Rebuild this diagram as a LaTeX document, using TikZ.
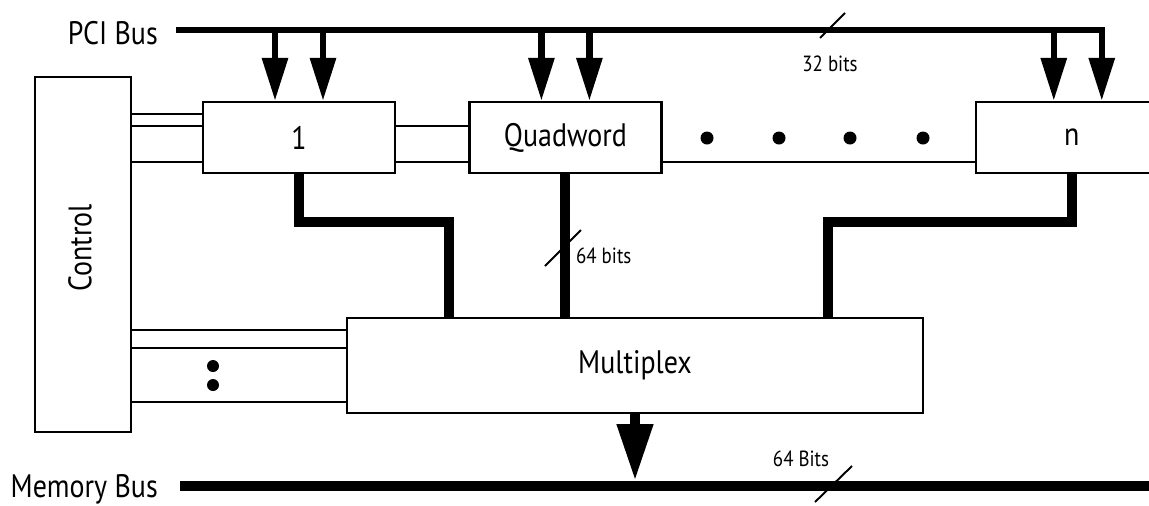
\documentclass[tikz,border=0pt]{standalone}
\usepackage{fontspec}
\setmainfont{PT Sans}[FakeStretch=0.86]
\usetikzlibrary{
  positioning,
  arrows.meta
}

\begin{document}
\begin{tikzpicture}[
    x=0.02cm, y=-0.02cm,
    font=\fontsize{18.5}{20}\selectfont,
    % Box styles
    box/.style={
        rectangle, draw=black, line width=1.4pt, fill=white, inner sep=0pt
    },
    word/.style={box, minimum width=3.84cm, minimum height=1.42cm},
    small/.style={font=\fontsize{12.5}{14}\selectfont, inner sep=1pt},
    % Line styles
    link/.style={line width=1.1pt, draw=black},
    tick/.style={line width=1.1pt, draw=black},
    wide/.style={line width=5.7pt, draw=black},
    membus/.style={line width=5.7pt, draw=black},
    pciarr/.style={-{Triangle[length=0.86cm, width=0.5cm]}, line width=3.6pt},
    memarr/.style={-{Triangle[length=1.14cm, width=0.68cm]}, line width=6pt},
    dot/.style={fill=black}
]
\path[use as bounding box, clip] (0,0) rectangle (1149,505);

% ==========================================
% NODES & PLACEMENT
% ==========================================

% --- Buses ---
\node[anchor=east] (pcilbl) at (164,33) {PCI Bus};
\coordinate (pci-l) at (176,30);
\node[anchor=east] (memlbl) at (164,489) {Memory Bus};
\coordinate (mem-l) at (180,486);
\coordinate (mem-r) at (1160,486);

% --- Quadword buffers ---
\node[word] (one) at (299,137.5) {1};
\node[word, right=1.44cm of one] (quad) {Quadword};
\node[word, right=6.24cm of quad] (n) {n};

% --- Control and Multiplex ---
\node[box, minimum width=1.92cm, minimum height=7.1cm] (ctrl) at (83,254.5) {};
\node[rotate=90] (ctrllbl) at (80,248) {Control};
\node[box, minimum width=11.52cm, minimum height=1.9cm] (mux) at (635,365.5) {Multiplex};

% --- Width labels ---
\node[small] (lbl32) at (830,64) {32 bits};
\node[small, anchor=west] (lbl64) at (574,256) {64 bits};
\node[small] (lbl64m) at (801,459) {64 Bits};

% ==========================================
% ROUTING & ARROWS
% ==========================================

% 1. PCI bus into the buffers
\draw[pciarr] (pci-l) -| ([xshift=0.6cm]n.north);
\draw[pciarr] ([xshift=-0.48cm]one.north |- pci-l) -- ([xshift=-0.48cm]one.north);
\draw[pciarr] ([xshift=0.48cm]one.north |- pci-l) -- ([xshift=0.48cm]one.north);
\draw[pciarr] ([xshift=-0.48cm]quad.north |- pci-l) -- ([xshift=-0.48cm]quad.north);
\draw[pciarr] ([xshift=0.48cm]quad.north |- pci-l) -- ([xshift=0.48cm]quad.north);
\draw[pciarr] ([xshift=-0.36cm]n.north |- pci-l) -- ([xshift=-0.36cm]n.north);
\draw[tick] (820,38) -- (845,13);

% 2. Control lines to the buffers
\draw[link] ([yshift=0.47cm]one.west) -- ([yshift=0.47cm]one.west -| ctrl.east);
\draw[link] ([yshift=0.23cm]one.west) -- ([yshift=0.23cm]one.west -| ctrl.east);
\draw[link] ([yshift=-0.49cm]one.west) -- ([yshift=-0.49cm]one.west -| ctrl.east);
\draw[link] ([yshift=0.23cm]one.east) -- ([yshift=0.23cm]quad.west);
\draw[link] ([yshift=-0.49cm]one.east) -- ([yshift=-0.49cm]quad.west);
\draw[link] ([yshift=-0.49cm]quad.east) -- ([yshift=-0.49cm]n.west);
\fill[dot] (707,138) circle (0.13cm);
\fill[dot] (779,138) circle (0.13cm);
\fill[dot] (850,138) circle (0.13cm);
\fill[dot] (923,138) circle (0.13cm);

% 3. Control lines to the multiplexer
\draw[link] ([yshift=0.71cm]mux.west) -- ([yshift=0.71cm]mux.west -| ctrl.east);
\draw[link] ([yshift=0.35cm]mux.west) -- ([yshift=0.35cm]mux.west -| ctrl.east);
\draw[link] ([yshift=-0.73cm]mux.west) -- ([yshift=-0.73cm]mux.west -| ctrl.east);
\fill[dot] (213,366) circle (0.12cm);
\fill[dot] (213,385) circle (0.12cm);

% 4. Buffers down to the multiplexer
\coordinate (j1) at (449,222);
\coordinate (j2) at (828,222);
\draw[wide] (one.south) |- (j1) -- (j1 |- mux.north);
\draw[wide] (quad.south) -- (quad.south |- mux.north);
\draw[wide] (n.south) |- (j2) -- (j2 |- mux.north);
\draw[tick] (545,266) -- (581,230);

% 5. Multiplexer onto the memory bus
\draw[membus] (mem-l) -- (mem-r);
\draw[memarr] (mux.south) -- ([yshift=0.1cm]mux.south |- mem-l);
\draw[tick] (815,502) -- (852,466);

\end{tikzpicture}
\end{document}
